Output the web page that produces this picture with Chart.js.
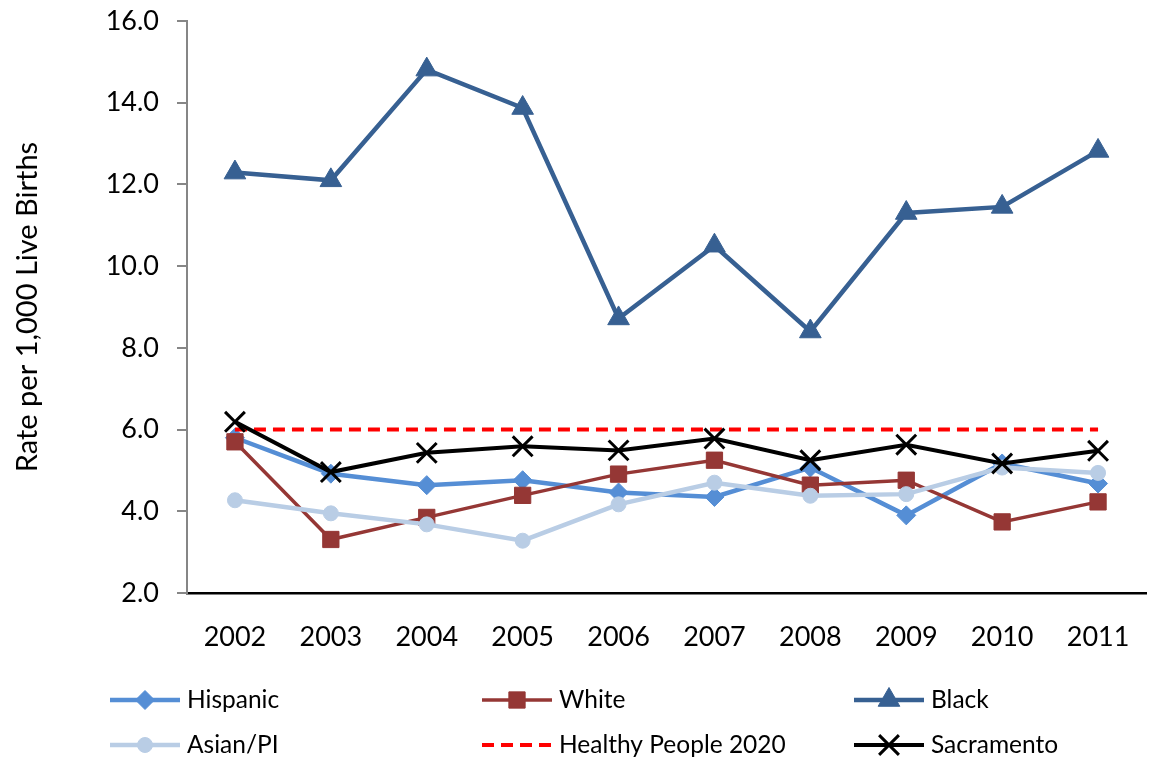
<!DOCTYPE html>
<html><head><meta charset="utf-8">
<script src="https://cdn.jsdelivr.net/npm/chart.js@4.4.0/dist/chart.umd.min.js"></script>
<style>html,body{margin:0;padding:0;background:#fff;}#wrap{width:1163px;height:759px;position:relative;}</style>
</head><body><div id="wrap"><canvas id="c" width="1163" height="759"></canvas></div>
<script>
// ---- data ----
const years = ['2002','2003','2004','2005','2006','2007','2008','2009','2010','2011'];
const hispanic = [5.80, 4.92, 4.64, 4.76, 4.46, 4.35, 5.07, 3.90, 5.17, 4.68];
const white    = [5.70, 3.31, 3.85, 4.39, 4.91, 5.25, 4.64, 4.76, 3.74, 4.23];
const black    = [12.29, 12.10, 14.81, 13.87, 8.72, 10.50, 8.40, 11.30, 11.45, 12.82];
const asianPI  = [4.27, 3.95, 3.68, 3.28, 4.17, 4.70, 4.38, 4.42, 5.07, 4.94];
const healthyPeople2020 = [6.0, 6.0, 6.0, 6.0, 6.0, 6.0, 6.0, 6.0, 6.0, 6.0];
const sacramento = [6.19, 4.96, 5.43, 5.59, 5.49, 5.78, 5.25, 5.63, 5.17, 5.48];
const yMin = 2, yMax = 16, yStep = 2;
const yTitle = 'Rate per 1,000 Live Births';

const FONT = 'Lato, "Open Sans", sans-serif';

const datasets = [
  {label:'Hispanic', data:hispanic, borderColor:'#558ED5', backgroundColor:'#558ED5', borderWidth:4.5,
   pointStyle:'rectRot', pointRadius:9.5, pointBorderWidth:1, order:6, lg:{col:0,row:0}},
  {label:'White', data:white, borderColor:'#953735', backgroundColor:'#953735', borderWidth:3.5,
   pointStyle:'rect', pointRadius:11.5, pointBorderWidth:1, order:5, lg:{col:1,row:0}},
  {label:'Black', data:black, borderColor:'#376092', backgroundColor:'#376092', borderWidth:4.5,
   pointStyle:'triangle', pointRadius:12.5, pointBorderWidth:1, order:4, lg:{col:2,row:0}},
  {label:'Asian/PI', data:asianPI, borderColor:'#B9CDE5', backgroundColor:'#B9CDE5', borderWidth:4.5,
   pointStyle:'circle', pointRadius:7.5, pointBorderWidth:1, order:3, lg:{col:0,row:1}},
  {label:'Healthy People 2020', data:healthyPeople2020, borderColor:'#FF0000', backgroundColor:'#FF0000', borderWidth:4,
   borderDash:[12,7], pointRadius:0, pointStyle:false, order:2, lg:{col:1,row:1}},
  {label:'Sacramento', data:sacramento, borderColor:'#000000', backgroundColor:'#000000', borderWidth:4,
   pointStyle:'crossRot', pointRadius:14, pointBorderWidth:3, order:1, lg:{col:2,row:1}}
];
datasets.forEach(d=>{ d.pointBackgroundColor=d.backgroundColor; d.pointBorderColor=d.borderColor; d.tension=0; d.fill=false; d.pointHoverRadius=d.pointRadius; });

const legendCols = [110, 482, 854];
const legendRows = [700, 745];

const legendPlugin = {
  id:'gridLegend',
  afterDraw(chart){
    const ctx = chart.ctx;
    chart.data.datasets.forEach(ds=>{
      const x0 = legendCols[ds.lg.col], y = legendRows[ds.lg.row];
      ctx.save();
      ctx.strokeStyle = ds.borderColor; ctx.fillStyle = ds.backgroundColor;
      ctx.lineWidth = ds.borderWidth;
      ctx.setLineDash(ds.borderDash || []);
      ctx.beginPath(); ctx.moveTo(x0, y); ctx.lineTo(x0+70, y); ctx.stroke();
      ctx.setLineDash([]);
      if (ds.pointStyle) {
        ctx.lineWidth = ds.pointBorderWidth;
        Chart.helpers.drawPoint(ctx, {pointStyle:ds.pointStyle, radius:ds.pointRadius, borderWidth:ds.pointBorderWidth, rotation:0}, x0+35, y);
      }
      ctx.fillStyle = '#000';
      ctx.font = '24.5px ' + FONT;
      ctx.textBaseline = 'middle'; ctx.textAlign = 'left';
      ctx.fillText(ds.label, x0+77, y);
      ctx.restore();
    });
  }
};

new Chart(document.getElementById('c'), {
  type:'line',
  data:{labels:years, datasets:datasets},
  options:{
    responsive:false, animation:false, devicePixelRatio:1,
    layout:{padding:{top:21, right:2, left:0, bottom:0}},
    plugins:{legend:{display:false}, tooltip:{enabled:false}},
    scales:{
      x:{
        offset:true,
        grid:{display:true, drawOnChartArea:false, drawTicks:false},
        border:{color:'#000', width:2.5},
        ticks:{color:'#000', font:{family:FONT, size:27}, padding:28, maxRotation:0, autoSkip:false},
        afterFit(s){ s.height = 166; s.paddingLeft = 0; s.paddingRight = 0; }
      },
      y:{
        min:yMin, max:yMax,
        ticks:{stepSize:yStep, color:'#000', font:{family:FONT, size:27}, padding:18,
               callback:v=>Number(v).toFixed(1)},
        grid:{drawOnChartArea:false, drawTicks:true, tickLength:10, color:'#868686', lineWidth:2},
        border:{color:'#868686', width:2},
        title:{display:true, text:yTitle, color:'#000', font:{family:FONT, size:29}, padding:{top:10,bottom:0}},
        afterFit(s){ s.width = 187; s.paddingTop = 0; s.paddingBottom = 0; }
      }
    }
  },
  plugins:[legendPlugin]
});
</script></body></html>
